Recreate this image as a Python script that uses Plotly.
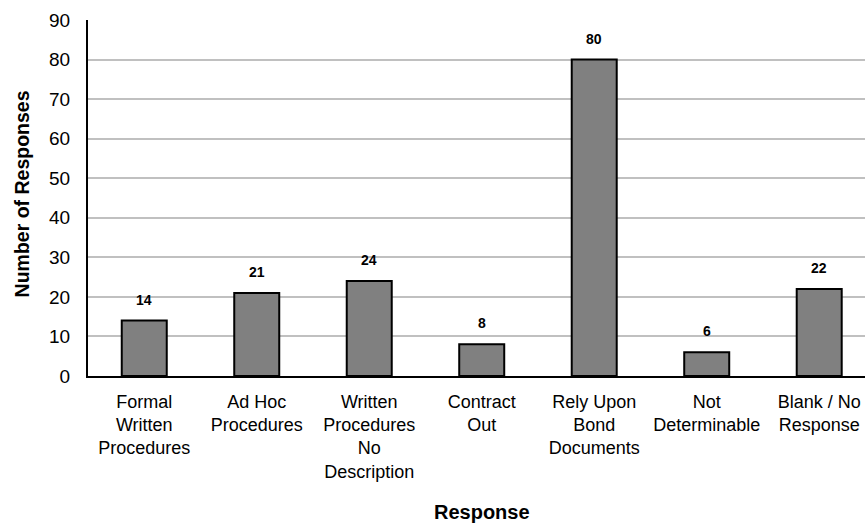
import plotly.graph_objects as go

categories = [
    "Formal<br>Written<br>Procedures",
    "Ad Hoc<br>Procedures",
    "Written<br>Procedures<br>No<br>Description",
    "Contract<br>Out",
    "Rely Upon<br>Bond<br>Documents",
    "Not<br>Determinable",
    "Blank / No<br>Response",
]
values = [14, 21, 24, 8, 80, 6, 22]
y_ticks = [0, 10, 20, 30, 40, 50, 60, 70, 80, 90]

FONT = "Liberation Sans, Arial, sans-serif"

fig = go.Figure()
fig.add_trace(go.Bar(
    x=list(range(len(categories))),
    y=values,
    width=0.4,
    marker=dict(color="#808080", line=dict(color="#000000", width=2)),
    hoverinfo="skip",
))

for i, v in enumerate(values):
    fig.add_annotation(
        x=i, y=v, text="<b>%d</b>" % v, showarrow=False,
        yanchor="middle", yshift=21,
        font=dict(family=FONT, size=14, color="#000000"),
    )

fig.add_annotation(
    x=3, xref="x", y=0, yref="paper", yshift=-136,
    text="<b>Response</b>", showarrow=False, yanchor="middle",
    font=dict(family=FONT, size=20, color="#000000"),
)
fig.add_annotation(
    x=0, xref="paper", xshift=-66, y=0.51, yref="paper",
    text="<b>Number of Responses</b>", showarrow=False, textangle=-90,
    xanchor="center", yanchor="middle",
    font=dict(family=FONT, size=19.5, color="#000000"),
)

fig.update_layout(
    width=865, height=523,
    margin=dict(l=88, r=0, t=20, b=147),
    paper_bgcolor="#ffffff", plot_bgcolor="#ffffff",
    showlegend=False,
    font=dict(family=FONT, color="#000000"),
    bargap=0.6,
)
fig.update_xaxes(
    range=[-0.5, 6.407],
    tickmode="array", tickvals=list(range(len(categories))), ticktext=categories,
    tickfont=dict(family=FONT, size=18, color="#000000"),
    showline=True, linecolor="#000000", linewidth=2,
    showgrid=False, ticks="", ticklabelstandoff=8,
    zeroline=False,
)
fig.update_yaxes(
    range=[0, 90],
    tickmode="array", tickvals=y_ticks,
    tickfont=dict(family=FONT, size=19, color="#000000"),
    showline=True, linecolor="#000000", linewidth=2,
    showgrid=True, gridcolor="#c0c0c0", gridwidth=2,
    ticks="", ticklabelstandoff=12,
    zeroline=False,
)

fig.write_html(
    "out.html",
    config={"displayModeBar": False},
    post_script="document.body.style.margin='0';document.body.style.overflow='hidden';",
)
